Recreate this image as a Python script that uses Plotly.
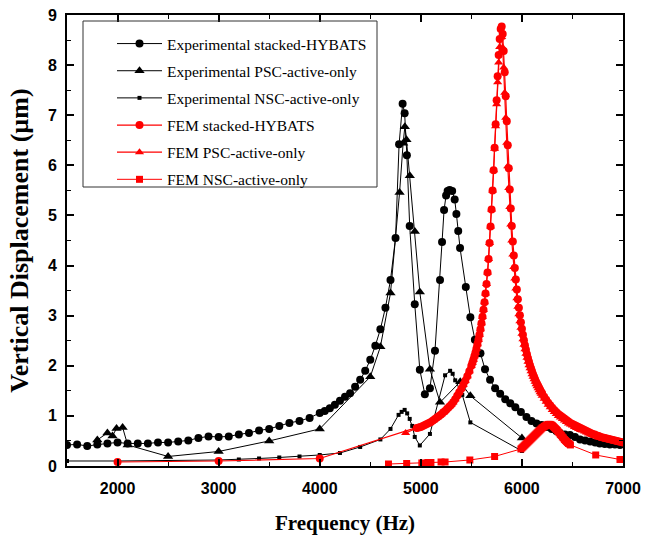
import plotly.graph_objects as go

# ---------------- data ----------------
exp_stacked_f = [1500,1600,1700,1800,1900,2000,2100,2200,2300,2400,2500,2600,2700,2800,2900,3000,
                 3100,3200,3300,3400,3500,3600,3700,3800,3900,4000,4050,4100,4150,4200,4250,4300,
                 4350,4400,4450,4500,4550,4600,4650,4700,4750,4785,4820,4840,4862,4890,4940,4990,
                 5040,5090,5140,5190,5210,5230,5250,5265,5285,5310,5335,5352,5370,5388,5445,5490,
                 5535,5590,5635,5685,5735,5785,5835,5885,5935,5990,6045,6095,6145,6195,6245,6295,
                 6340,6375,6425,6475,6525,6575,6625,6675,6725,6770,6820,6870,6920,6970]
exp_stacked_v = [0.42,0.43,0.40,0.43,0.45,0.47,0.45,0.45,0.45,0.47,0.47,0.49,0.51,0.56,0.59,0.58,
                 0.59,0.63,0.66,0.71,0.74,0.80,0.86,0.90,0.96,1.06,1.10,1.15,1.22,1.30,1.38,1.45,
                 1.58,1.72,1.90,2.12,2.40,2.73,3.16,3.71,4.55,6.42,7.23,7.04,6.20,4.79,3.23,1.92,
                 1.43,1.55,2.30,3.71,4.47,5.11,5.40,5.49,5.51,5.49,5.32,5.03,4.69,4.35,3.57,2.97,
                 2.52,2.25,1.93,1.72,1.55,1.44,1.33,1.25,1.17,1.08,0.98,0.90,0.85,0.82,0.78,0.74,
                 0.70,0.66,0.63,0.62,0.58,0.53,0.51,0.49,0.47,0.45,0.44,0.43,0.43,0.42]

exp_psc_f = [1800,1900,1950,1990,2050,2100,2500,3000,3500,4000,4500,4600,4700,4790,4825,4842,
             4858,4891,4941,4990,5090,5190,5390,5490,6000]
exp_psc_v = [0.52,0.66,0.60,0.75,0.77,0.42,0.19,0.29,0.50,0.74,1.78,2.38,3.45,5.46,6.44,6.77,
             6.51,5.79,4.68,3.47,1.93,1.27,1.68,1.40,0.56]

exp_nsc_f = [1500,2000,3000,3200,3400,3600,3800,4000,4200,4400,4600,4700,4780,4810,4840,4865,
             4890,4915,4940,4990,5090,5240,5290,5315,5340,5410,5490,6000]
exp_nsc_v = [0.10,0.10,0.12,0.13,0.15,0.17,0.19,0.22,0.26,0.38,0.53,0.74,1.02,1.08,1.12,1.05,
             0.94,0.80,0.58,0.41,0.64,1.81,1.90,1.84,1.71,1.42,0.87,0.30]

# FEM frequency grid (sparse low part + dense sweep)
fem_low_f = [2000, 3000, 4000]
fem_low_v = [0.08, 0.10, 0.15]
fem_f = list(range(4960, 5501, 20)) + list(range(5510, 6201, 10)) + list(range(6220, 7001, 20))

fem_stacked_v = [
    0.76,0.77,0.78,0.80,0.82,0.84,0.86,0.88,0.91,0.94,0.97,1.00,1.03,1.07,1.10,1.14,1.18,1.22,
    1.27,1.33,1.40,1.47,1.54,1.62,1.70,1.79,1.89,2.00,
    2.06,2.12,2.19,2.26,2.34,2.43,2.52,2.62,2.73,2.85,
    2.98,3.12,3.27,3.44,3.63,3.86,4.13,4.45,4.78,5.12,
    5.50,5.90,6.35,6.82,7.30,7.78,8.20,8.52,8.72,8.77,
    8.62,8.28,7.86,7.38,6.88,6.40,5.94,5.52,5.14,4.79,
    4.48,4.20,3.95,3.72,3.52,3.33,3.16,3.01,2.87,2.74,
    2.62,2.51,2.41,2.32,2.23,2.15,2.08,2.01,1.95,1.89,
    1.83,1.78,1.73,1.68,1.64,1.60,1.56,1.52,1.48,1.45,
    1.38,1.32,1.26,1.21,1.16,1.12,1.08,1.04,1.01,0.98,
    0.95,0.92,0.89,0.86,0.84,0.82,0.80,0.78,0.76,0.74,
    0.72,0.70,0.68,0.66,0.64,0.63,0.61,0.60,0.58,0.57,
    0.56,0.55,0.54,0.53,0.52,0.51,0.50,0.49,0.48,0.47]

fem_psc_low_f = [4850]
fem_psc_low_v = [0.66]
fem_psc_v = [
    0.76,0.77,0.78,0.80,0.82,0.84,0.86,0.88,0.91,0.94,0.97,1.00,1.03,1.07,1.10,1.14,1.18,1.22,
    1.27,1.33,1.40,1.47,1.54,1.62,1.70,1.79,1.89,2.00,
    2.06,2.12,2.19,2.26,2.34,2.43,2.52,2.62,2.73,2.85,
    2.98,3.12,3.27,3.44,3.63,3.86,4.13,4.45,4.78,5.12,
    5.50,5.90,6.33,6.78,7.22,7.66,8.05,8.36,8.55,8.56,
    8.35,7.95,7.45,6.95,6.45,5.98,5.55,5.17,4.82,4.50,
    4.22,3.97,3.74,3.54,3.35,3.18,3.03,2.89,2.76,2.64,
    2.53,2.42,2.33,2.24,2.16,2.08,2.01,1.95,1.89,1.83,
    1.78,1.73,1.68,1.63,1.59,1.55,1.51,1.47,1.44,1.40,
    1.34,1.28,1.22,1.17,1.12,1.08,1.04,1.00,0.97,0.94,
    0.91,0.88,0.85,0.83,0.81,0.78,0.76,0.74,0.72,0.71,
    0.69,0.67,0.65,0.63,0.62,0.60,0.59,0.57,0.56,0.55,
    0.54,0.53,0.52,0.51,0.50,0.49,0.48,0.47,0.46,0.46]

fem_nsc_low_f = [4680,4860,5010,5070,5100,5200,5240,5485,5730]
fem_nsc_low_v = [0.04,0.05,0.06,0.07,0.07,0.08,0.08,0.12,0.19]
fem_nsc_mid_f = list(range(5990, 6481, 10))
fem_nsc_mid_v = [
    0.34,0.36,0.38,0.40,0.42,0.44,0.46,0.48,0.50,0.52,
    0.54,0.56,0.58,0.60,0.62,0.64,0.66,0.68,0.70,0.72,
    0.74,0.76,0.77,0.79,0.80,0.81,0.82,0.83,0.83,0.83,
    0.82,0.81,0.79,0.77,0.75,0.73,0.71,0.68,0.66,0.63,
    0.61,0.58,0.56,0.53,0.51,0.49,0.47,0.45,0.44,0.42]
fem_nsc_high_f = [6730, 6970]
fem_nsc_high_v = [0.22, 0.13]

names = ["Experimental stacked-HYBATS", "Experimental PSC-active-only",
         "Experimental NSC-active-only", "FEM stacked-HYBATS",
         "FEM PSC-active-only", "FEM NSC-active-only"]

# ---------------- figure ----------------
fig = go.Figure()
BLACK = "#000000"
RED = "#FF0000"

def add(x, y, name, color, symbol, size, lw, i):
    fig.add_trace(go.Scatter(
        x=x, y=y, name=name, mode="lines+markers",
        line=dict(color=color, width=lw),
        marker=dict(symbol=symbol, size=size, color=color),
        legendgroup=f"g{i}", legendrank=i))

add(exp_stacked_f, exp_stacked_v, names[0], BLACK, "circle", 8, 1, 1)
add(exp_psc_f, exp_psc_v, names[1], BLACK, "triangle-up", 9, 1, 2)
add(exp_nsc_f, exp_nsc_v, names[2], BLACK, "square", 4, 1, 3)
add(fem_low_f + fem_f, fem_low_v + fem_stacked_v, names[3], RED, "circle", 8, 1.2, 4)
add(fem_psc_low_f + fem_f, fem_psc_low_v + fem_psc_v, names[4], RED, "triangle-up", 8, 1.2, 5)
add(fem_nsc_low_f + fem_nsc_mid_f + fem_nsc_high_f,
    fem_nsc_low_v + fem_nsc_mid_v + fem_nsc_high_v, names[5], RED, "square", 7, 1, 6)

L, R, T, B = 67, 31, 15, 69
W, H = 654, 535
pw, ph = W - L - R, H - T - B

def px_x(p):
    return (p - L) / pw

def px_y(p):
    return (H - B - p) / ph

axis_common = dict(
    showline=True, linewidth=2, linecolor=BLACK, mirror="allticks",
    ticks="inside", ticklen=7, tickwidth=1.5, tickcolor=BLACK,
    showgrid=False, zeroline=False,
    tickfont=dict(family="Liberation Sans", size=16, color=BLACK, weight="bold"),
)

fig.update_xaxes(range=[1500, 7000], dtick=1000, tick0=0,
                 minor=dict(dtick=500, tick0=0, ticks="inside", ticklen=4, tickwidth=1.2, tickcolor=BLACK),
                 title=dict(text="Frequency (Hz)", standoff=19,
                            font=dict(family="Liberation Serif", size=21, color=BLACK, weight="bold")),
                 ticklabelstandoff=7, **axis_common)
fig.update_yaxes(range=[0, 9], dtick=1, tick0=0,
                 minor=dict(dtick=0.5, tick0=0, ticks="inside", ticklen=4, tickwidth=1.2, tickcolor=BLACK),
                 title=dict(text="Vertical Displacement (µm)", standoff=12,
                            font=dict(family="Liberation Serif", size=26, color=BLACK, weight="bold")),
                 ticklabelstandoff=5, **axis_common)

# legend frame
fig.add_shape(type="rect", xref="paper", yref="paper",
              x0=px_x(83), x1=px_x(377), y0=px_y(187), y1=px_y(21),
              line=dict(color="#333333", width=1), fillcolor="rgba(0,0,0,0)", layer="above")

fig.update_layout(
    width=W, height=H, autosize=False,
    margin=dict(l=L, r=R, t=T, b=B, autoexpand=False),
    paper_bgcolor="white", plot_bgcolor="white",
    showlegend=True,
    legend=dict(x=px_x(112), y=px_y(27), xanchor="left", yanchor="top",
                bgcolor="rgba(0,0,0,0)", borderwidth=0, tracegroupgap=4,
                font=dict(family="Liberation Serif", size=15.5, color=BLACK),
                itemwidth=45),
)

fig.write_html("out.html")
